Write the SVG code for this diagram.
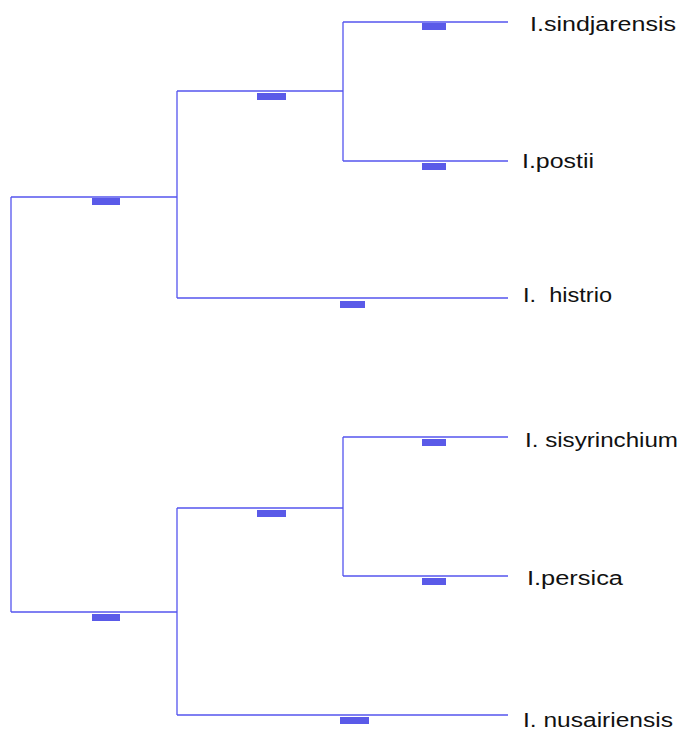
<svg xmlns="http://www.w3.org/2000/svg" width="681" height="730" viewBox="0 0 681 730">
<style>
.e{stroke:#5555ee;stroke-width:1.3;fill:none}
.b{fill:#5a5ae8}
.t{font-family:"Liberation Sans",Arial,sans-serif;font-size:20px;fill:#111}
</style>
<rect width="681" height="730" fill="#fff"/>
<g id="connectors">
<path class="e" d="M11,197V612M11,197H177M11,612H177"/>
<path class="e" d="M177,91V298M177,91H343M177,298H508"/>
<path class="e" d="M343,22V161M343,22H508M343,161H508"/>
<path class="e" d="M177,508V715M177,508H343M177,715H508"/>
<path class="e" d="M343,437V576M343,437H508M343,576H508"/>
<rect class="b" x="422" y="23" width="24" height="7"/>
<rect class="b" x="422" y="163" width="24" height="7"/>
<rect class="b" x="257" y="93" width="29" height="7"/>
<rect class="b" x="92" y="198" width="28" height="7"/>
<rect class="b" x="340" y="301" width="25" height="7"/>
<rect class="b" x="422" y="439" width="24" height="7"/>
<rect class="b" x="422" y="578" width="24" height="7"/>
<rect class="b" x="257" y="510" width="29" height="7"/>
<rect class="b" x="92" y="614" width="28" height="7"/>
<rect class="b" x="340" y="717" width="29" height="7"/>
</g>
<g id="n1"><text class="t" x="530" y="31" textLength="146" lengthAdjust="spacingAndGlyphs">I.sindjarensis</text></g>
<g id="n2"><text class="t" x="522" y="168" textLength="72" lengthAdjust="spacingAndGlyphs">I.postii</text></g>
<g id="n3"><text class="t" x="523" y="302" xml:space="preserve" textLength="89" lengthAdjust="spacingAndGlyphs">I.  histrio</text></g>
<g id="n4"><text class="t" x="525" y="447" textLength="153" lengthAdjust="spacingAndGlyphs">I. sisyrinchium</text></g>
<g id="n5"><text class="t" x="527" y="585" textLength="96" lengthAdjust="spacingAndGlyphs">I.persica</text></g>
<g id="n6"><text class="t" x="523" y="727" textLength="150" lengthAdjust="spacingAndGlyphs">I. nusairiensis</text></g>
</svg>
